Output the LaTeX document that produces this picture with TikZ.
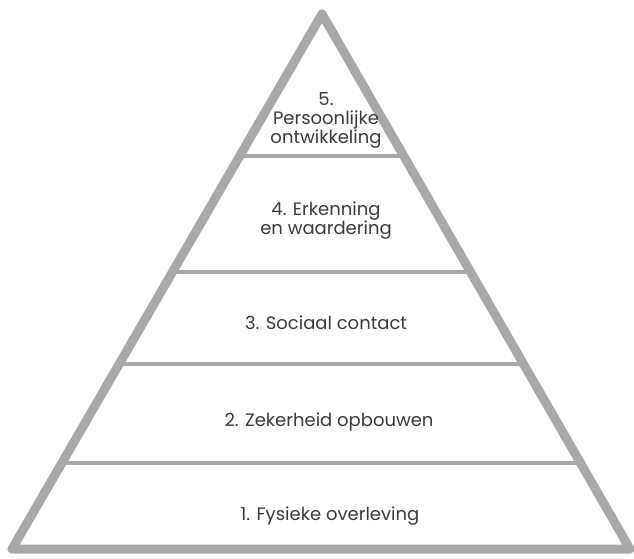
\documentclass[tikz,border=0pt]{standalone}
\usepackage{fontspec}
\setmainfont{Poppins}
\usepackage{tikz}
\usetikzlibrary{calc}
\definecolor{frame}{HTML}{A7A8AA}
\definecolor{ink}{HTML}{3A3A3A}
\tikzset{
  outer/.style={line width=9pt, draw=frame, line join=round},
  layer/.style={line width=4.5pt, draw=frame},
  lab/.style={text=ink, font=\fontsize{18}{19}\selectfont, align=center}
}

\begin{document}
\begin{tikzpicture}[x=1pt,y=-1pt]
  \useasboundingbox (0,0) rectangle (634,558);

  \coordinate (A) at (322,14);
  \coordinate (L) at (12,549);
  \coordinate (R) at (630,549);

  % layer borders
  \draw[layer] ($(L)!0.1607!(A)$) -- ($(R)!0.1607!(A)$);
  \draw[layer] ($(L)!0.3458!(A)$) -- ($(R)!0.3458!(A)$);
  \draw[layer] ($(L)!0.5178!(A)$) -- ($(R)!0.5178!(A)$);
  \draw[layer] ($(L)!0.7346!(A)$) -- ($(R)!0.7346!(A)$);

  \draw[outer] (A) -- (L) -- (R) -- cycle;

  \node[lab] (n5) at (326,120) {5.\\Persoonlijke\\ontwikkeling};
  \node[lab] (n4) at (326,221) {4. Erkenning\\en waardering};
  \node[lab] (n3) at (326,323) {3. Sociaal contact};
  \node[lab] (n2) at (329,422) {2. Zekerheid opbouwen};
  \node[lab] (n1) at (330,516) {1. Fysieke overleving};
\end{tikzpicture}
\end{document}
